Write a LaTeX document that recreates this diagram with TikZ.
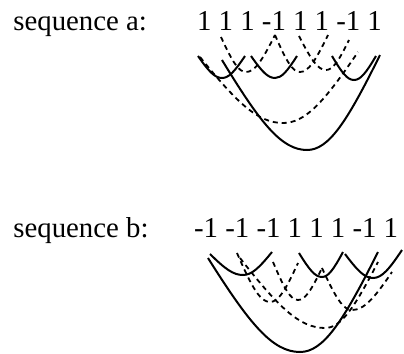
\documentclass[tikz,border=0pt]{standalone}
\usepackage{fontspec}
\setmainfont{Liberation Serif}
\usetikzlibrary{positioning}

% one rounded V: style, left x/y, bottom x/y, right x/y
\newcommand{\vcurve}[7]{%
  \draw[#1] (#2,#3) .. controls ({#2+0.45*(#4-#2)},{#3+0.7*(#5-#3)}) and ({#4-0.3*(#4-#2)},#5) .. (#4,#5)
    .. controls ({#4+0.3*(#6-#4)},#5) and ({#6-0.45*(#6-#4)},{#7+0.7*(#5-#7)}) .. (#6,#7);}

\begin{document}
\begin{tikzpicture}[x=0.5pt, y=-0.5pt,
  every node/.style={font=\fontsize{14.4}{17}\selectfont, inner sep=0pt},
  solidv/.style={line width=1pt},
  dashv/.style={line width=0.9pt, dash pattern=on 2.5pt off 2pt}]
\useasboundingbox (0,0) rectangle (404,354);

% sequence a
\node[anchor=base west] (labela) at (13,30) {sequence a:};
\node[base right=24.7pt of labela] (seqa) {1 1 1 -1 1 1 -1 1};
\vcurve{dashv}{200}{57}{283}{123}{358}{52}
\vcurve{solidv}{222}{60}{307}{150}{380}{55}
\vcurve{solidv}{198}{56}{222}{78}{245}{56}
\vcurve{solidv}{251}{56}{275}{78}{297}{56}
\vcurve{solidv}{332}{56}{354}{80}{376}{56}
\vcurve{dashv}{221}{37}{246}{72}{275}{35}
\vcurve{dashv}{275}{35}{300}{72}{328}{35}
\vcurve{dashv}{299}{36}{326}{70}{349}{40}

% sequence b
\node[anchor=base west] (labelb) at (13,238) {sequence b:};
\node[base right=22.4pt of labelb] (seqb) {-1 -1 -1 1 1 1 -1 1};
\vcurve{solidv}{208}{258}{300}{352}{378}{252}
\vcurve{solidv}{210}{254}{243}{275}{272}{252}
\vcurve{solidv}{299}{253}{322}{277}{343}{252}
\vcurve{solidv}{345}{254}{373}{278}{402}{250}
\vcurve{dashv}{240}{258}{325}{328}{378}{262}
\vcurve{dashv}{237}{253}{270}{302}{298}{263}
\vcurve{dashv}{273}{262}{298}{300}{322}{268}
\vcurve{dashv}{322}{268}{352}{310}{392}{272}
\end{tikzpicture}
\end{document}
